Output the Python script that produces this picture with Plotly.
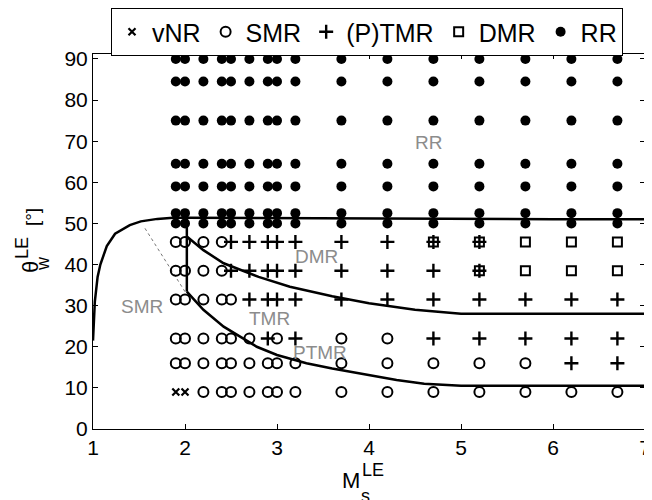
import plotly.graph_objects as go

# ---- data ----
mach = [1.9, 2.0, 2.2, 2.4, 2.5, 2.7, 2.9, 3.0, 3.2, 3.7, 4.2, 4.7, 5.2, 5.7, 6.2, 6.7]
angles = [90, 84.5, 75, 64.5, 59, 52.5, 50, 45.5, 38.5, 31.5, 22, 16, 9]
# regime codes per angle row (one per Mach column):
# V=vNR, S=SMR, T=(P)TMR, D=DMR, B=TMR+DMR, R=RR
regime_rows = [
    "RRRRRRRRRRRRRRRR",
    "RRRRRRRRRRRRRRRR",
    "RRRRRRRRRRRRRRRR",
    "RRRRRRRRRRRRRRRR",
    "RRRRRRRRRRRRRRRR",
    "RRRRRRRRRRRRRRRR",
    "RRRRRRRRRRRRRRRR",
    "SSSSTTTTTTTBBDDD",
    "SSSSTTTTTTTTBDDD",
    "SSSSSTTTTTTTTTTT",
    "SSSSSSTSTSSTTTTT",
    "SSSSSSSSSSSSSSTT",
    "VVSSSSSSSSSSSSSS",
]

# boundary lines
outer_x = [1.0, 1.02, 1.05, 1.08, 1.15, 1.24, 1.4, 1.52, 1.7, 1.87, 2.0, 3.0, 4.0, 5.0, 6.0, 7.0]
outer_y = [21.5, 31.0, 37.0, 40.0, 44.5, 47.5, 49.6, 50.5, 51.1, 51.4, 51.4, 51.3, 51.2, 51.0, 51.0, 51.0]
vert_x = [2.02, 2.02]
vert_y = [51.4, 33.4]
dmr_x = [2.02, 2.2, 2.42, 2.8, 3.14, 3.6, 4.0, 4.5, 5.0, 7.0]
dmr_y = [46.8, 43.5, 40.3, 37.0, 34.6, 32.3, 30.6, 29.0, 28.0, 28.0]
ptmr_x = [2.02, 2.2, 2.42, 2.78, 3.0, 3.32, 3.6, 4.0, 4.3, 4.6, 5.0, 7.0]
ptmr_y = [33.4, 29.0, 24.9, 20.0, 18.0, 16.0, 14.7, 13.0, 11.9, 11.0, 10.5, 10.5]
dot_x = [1.565, 1.8, 2.0]
dot_y = [48.8, 40.4, 33.4]

region_labels = ["RR", "DMR", "SMR", "TMR", "PTMR"]
region_x = [4.65, 3.43, 1.53, 2.92, 3.47]
region_y = [69.7, 41.9, 29.8, 26.9, 18.6]

x_ticks = [1, 2, 3, 4, 5, 6, 7]
y_ticks = [0, 10, 20, 30, 40, 50, 60, 70, 80, 90]

# ---- build point lists per regime ----
pts = {k: ([], []) for k in "VSTDR"}
for ang, row in zip(angles, regime_rows):
    for m, code in zip(mach, row):
        keys = ["T", "D"] if code == "B" else [code]
        for k in keys:
            pts[k][0].append(m)
            pts[k][1].append(ang)

fig = go.Figure()
line_style = dict(color="black", width=2.5)
for xs, ys in [(outer_x, outer_y), (vert_x, vert_y), (dmr_x, dmr_y), (ptmr_x, ptmr_y)]:
    fig.add_trace(go.Scatter(x=xs, y=ys, mode="lines", line=line_style,
                             showlegend=False, hoverinfo="skip"))
fig.add_trace(go.Scatter(x=dot_x, y=dot_y, mode="lines",
                         line=dict(color="#777777", width=1, dash="dot"),
                         showlegend=False, hoverinfo="skip"))

specs = [
    ("V", "vNR", dict(symbol="x-thin-open", size=7, line=dict(color="black", width=2.2))),
    ("S", "SMR", dict(symbol="circle-open", size=10, line=dict(color="black", width=2))),
    ("T", "(P)TMR", dict(symbol="cross-thin-open", size=10, line=dict(color="black", width=2.4))),
    ("D", "DMR", dict(symbol="square-open", size=9, line=dict(color="black", width=2))),
    ("R", "RR", dict(symbol="circle", size=10, color="black", line=dict(width=0))),
]
for k, name, mk in specs:
    mk = dict(mk)
    mk.setdefault("color", "black")
    fig.add_trace(go.Scatter(x=pts[k][0], y=pts[k][1], mode="markers", name=name,
                             marker=mk))

for t, x, y in zip(region_labels, region_x, region_y):
    fig.add_annotation(x=x, y=y, text=t, showarrow=False,
                       font=dict(size=19, color="#8c8c8c"))

# axis titles (stacked sub/superscripts), paper coords relative to plot area
title_ann = [
    ("M", 0.468, -0.1373, 22, 0),
    ("LE", 0.508, -0.1093, 18, 0),
    ("s", 0.494, -0.178, 18, 0),
    ("θ", -0.1141, 0.432, 22, -90),
    ("LE", -0.1286, 0.4827, 18, -90),
    ("w", -0.0906, 0.4427, 18, -90),
    ("[°]", -0.1105, 0.5653, 19, -90),
]
for t, x, y, s, ang in title_ann:
    fig.add_annotation(x=x, y=y, xref="paper", yref="paper", text=t, showarrow=False,
                       textangle=ang, xanchor="center", yanchor="middle",
                       font=dict(size=s, color="black"))

axis_common = dict(ticks="inside", ticklen=5, tickcolor="black", showline=True,
                   linecolor="black", linewidth=1, mirror="allticks", showgrid=False,
                   zeroline=False, automargin=False,
                   tickfont=dict(size=21, color="black"))
# the page body adds an 8px offset, so margins are shifted by 8px
fig.update_layout(
    width=652, height=500,
    margin=dict(l=85, r=15, t=46, b=79, autoexpand=False),
    plot_bgcolor="white", paper_bgcolor="white",
    font=dict(family="Liberation Sans, Arial, sans-serif", color="black"),
    xaxis=dict(range=[1, 7], tickvals=x_ticks, **axis_common),
    yaxis=dict(range=[0, 91.2], tickvals=y_ticks, **axis_common),
    legend=dict(orientation="h", xref="container", yref="container",
                x=103 / 652, y=1.0, xanchor="left", yanchor="top",
                bordercolor="black", borderwidth=1, font=dict(size=25),
                bgcolor="white", tracegroupgap=0, itemwidth=30),
)

fig.write_html("out.html")
